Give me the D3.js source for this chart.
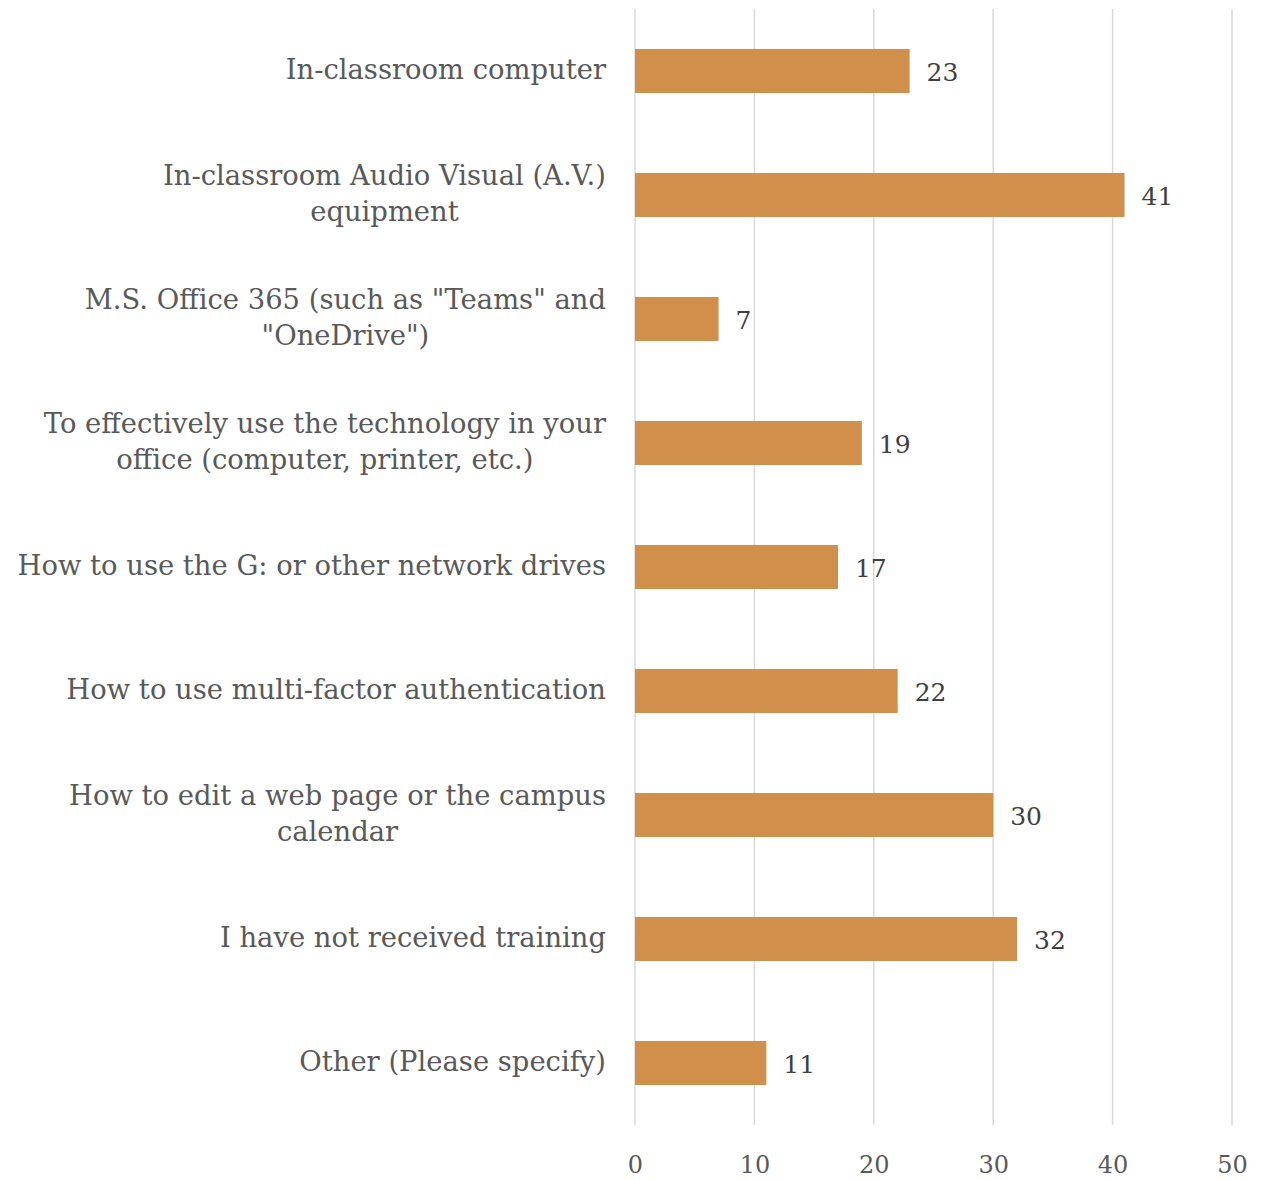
<!DOCTYPE html>
<html>
<head>
<meta charset="utf-8">
<script src="https://cdn.jsdelivr.net/npm/d3@7"></script>
<style>
  html, body { margin: 0; padding: 0; background: #ffffff; }
  svg { display: block; }
  text { font-family: "DejaVu Serif", "Liberation Serif", serif; }
</style>
</head>
<body>
<svg id="chart" width="1268" height="1180"></svg>
<script>
// Training topics (multi-line labels split with \n)
const categories = [
  "In-classroom computer",
  "In-classroom Audio Visual (A.V.)\nequipment",
  "M.S. Office 365 (such as \"Teams\" and\n\"OneDrive\")",
  "To effectively use the technology in your\noffice (computer, printer, etc.)",
  "How to use the G: or other network drives",
  "How to use multi-factor authentication",
  "How to edit a web page or the campus\ncalendar",
  "I have not received training",
  "Other (Please specify)"
];
const values = [23, 41, 7, 19, 17, 22, 30, 32, 11];
const tickValues = [0, 10, 20, 30, 40, 50];

const svg = d3.select("#chart");
const margin = { top: 9, right: 36, bottom: 55, left: 635 };
const width = 1268 - margin.left - margin.right;
const height = 1180 - margin.top - margin.bottom;

const x = d3.scaleLinear().domain([0, 50]).range([0, width]);
const y = d3.scaleBand().domain(categories).range([0, height]).paddingInner(0.645).paddingOuter(0.3225);

const g = svg.append("g").attr("transform", `translate(${margin.left},${margin.top})`);

// Vertical gridlines
g.append("g")
  .selectAll("line")
  .data(tickValues)
  .join("line")
  .attr("x1", d => x(d)).attr("x2", d => x(d))
  .attr("y1", 0).attr("y2", height)
  .attr("stroke", "#d9d9d9")
  .attr("stroke-width", 1.5);

// Bottom tick labels
const xAxis = d3.axisBottom(x).tickValues(tickValues).tickSize(0).tickPadding(31);
const ax = g.append("g").attr("transform", `translate(0,${height})`).call(xAxis);
ax.select(".domain").remove();
ax.selectAll("text")
  .attr("font-family", "DejaVu Serif, serif")
  .attr("font-size", 24)
  .attr("fill", "#595959");

// Bars
g.append("g")
  .selectAll("rect")
  .data(values)
  .join("rect")
  .attr("x", x(0))
  .attr("y", (d, i) => y(categories[i]))
  .attr("width", d => x(d) - x(0))
  .attr("height", y.bandwidth())
  .attr("fill", "#d08f4a");

// Value labels
g.append("g")
  .selectAll("text")
  .data(values)
  .join("text")
  .attr("x", d => x(d) + 17)
  .attr("y", (d, i) => y(categories[i]) + y.bandwidth() / 2 + 3)
  .attr("dominant-baseline", "middle")
  .attr("font-size", 25)
  .attr("fill", "#404040")
  .text(d => d);

// Category labels: block right-aligned, lines centred within the block
const labelRight = -29;
const lineHeight = 36;
const labels = g.append("g");
categories.forEach(cat => {
  const lines = cat.split("\n");
  const cy = y(cat) + y.bandwidth() / 2;
  const grp = labels.append("g");
  const texts = lines.map((ln, j) => grp.append("text")
    .attr("y", cy + (j - (lines.length - 1) / 2) * lineHeight)
    .attr("dominant-baseline", "middle")
    .attr("text-anchor", "middle")
    .attr("font-size", 27.4)
    .attr("fill", "#595959")
    .text(ln));
  const maxW = d3.max(texts, t => t.node().getComputedTextLength());
  texts.forEach(t => t.attr("x", labelRight - maxW / 2));
});
</script>
</body>
</html>
